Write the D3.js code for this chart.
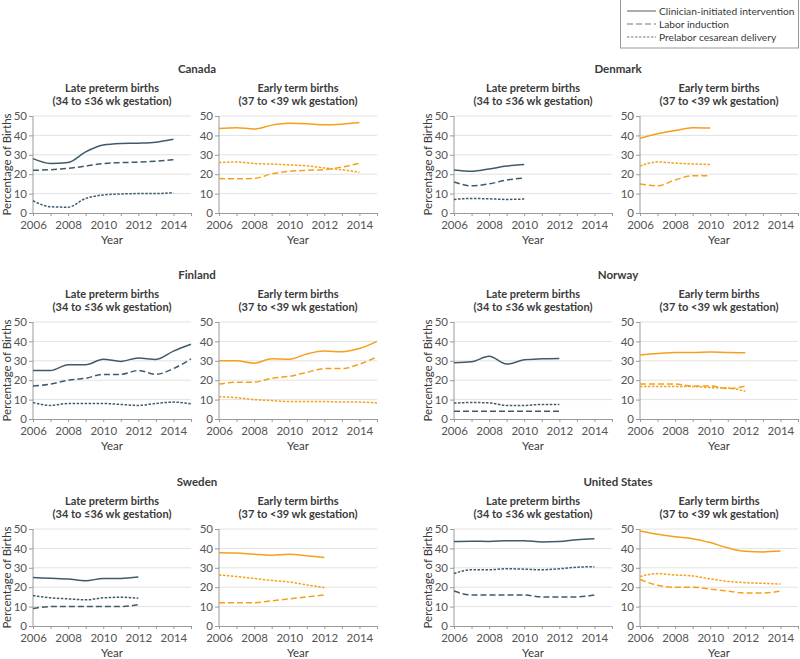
<!DOCTYPE html>
<meta charset="utf-8">
<style>
body { margin: 0; background: #fff; }
svg text { font-family: Lato, "Noto Sans", sans-serif; fill: #3a3a3a; }
.grid line { stroke: #e2e2e2; }
.axis path, .axis line { stroke: #9a9a9a; }
.axis text { font-family: Lato, "Noto Sans", sans-serif; font-size: 11.5px; fill: #555; }
</style>
<body>
<svg width="800" height="659"></svg>
<script src="https://d3js.org/d3.v7.min.js"></script>
<script>

// legend series names
var seriesNames = ["Clinician-initiated intervention", "Labor induction", "Prelabor cesarean delivery"];

var countries = ["Canada", "Denmark", "Finland", "Norway", "Sweden", "United States"];

// years covered by each country
var years_canada = [2006, 2007, 2008, 2009, 2010, 2011, 2012, 2013, 2014];
var years_denmark = [2006, 2007, 2008, 2009, 2010];
var years_finland = [2006, 2007, 2008, 2009, 2010, 2011, 2012, 2013, 2014, 2015];
var years_norway = [2006, 2007, 2008, 2009, 2010, 2011, 2012];
var years_sweden = [2006, 2007, 2008, 2009, 2010, 2011, 2012];
var years_us = [2006, 2007, 2008, 2009, 2010, 2011, 2012, 2013, 2014];

// late preterm: [clinician-initiated, labor induction, prelabor cesarean]
var canada_late = [
  [28, 25.5, 26, 31.5, 35, 35.8, 36, 36.5, 38],
  [22, 22.3, 23, 24.2, 25.5, 26, 26.2, 26.7, 27.5],
  [6.3, 3.2, 3, 7.5, 9.3, 9.8, 10, 10, 10.5]
];
var canada_early = [
  [43.5, 44, 43.3, 45.3, 46.2, 46, 45.5, 45.8, 46.6],
  [17.8, 17.6, 17.8, 20.2, 21.5, 22, 22.3, 23.7, 25.6],
  [26, 26.3, 25.5, 25.2, 24.8, 24.3, 23.2, 22.3, 21]
];
var denmark_late = [
  [22.2, 21.5, 22.7, 24.2, 25],
  [16, 14, 15, 17, 18],
  [7, 7.5, 7.3, 7, 7.2]
];
var denmark_early = [
  [38.5, 40.8, 42.5, 44, 43.8],
  [15, 14, 17, 19.2, 19.2],
  [24.2, 26.3, 25.7, 25.3, 25]
];
var finland_late = [
  [25, 25, 28, 28, 30.8, 29.7, 31.5, 30.7, 35, 38.5],
  [17, 18, 20, 21, 23, 23, 25, 23, 26, 31],
  [8.5, 7, 8, 8, 8, 7.5, 7, 8, 8.7, 7.8]
];
var finland_early = [
  [30, 30, 28.8, 31, 30.8, 33.5, 35, 34.7, 36.3, 40],
  [18, 19, 19, 21, 22, 24, 26, 26, 28.3, 32],
  [11.5, 11, 10, 9.5, 9, 9, 9, 8.7, 8.7, 8.3]
];
var norway_late = [
  [29, 29.5, 32.3, 28.3, 30.5, 31, 31.2],
  [4, 4, 4, 4, 4, 4, 4],
  [8.2, 8.5, 8.3, 7, 7, 7.5, 7.5]
];
var norway_early = [
  [33, 33.8, 34.3, 34.3, 34.6, 34.3, 34.2],
  [18, 18, 18, 17, 17, 15.7, 17],
  [16.7, 16.8, 16.8, 16.7, 16.2, 16, 14.3]
];
var sweden_late = [
  [25, 24.6, 24.2, 23.3, 24.5, 24.5, 25.2],
  [9, 10, 10, 10, 10, 10, 11],
  [15.7, 14.5, 14, 13.5, 14.5, 14.8, 14.3]
];
var sweden_early = [
  [37.8, 37.6, 37, 36.5, 37, 36.2, 35.3],
  [12, 12, 12, 13, 14, 15, 16],
  [26.3, 25.5, 24.5, 23.5, 22.7, 21.2, 19.8]
];
var us_late = [
  [43.5, 43.7, 43.6, 44, 44, 43.3, 43.5, 44.5, 45],
  [18, 16, 16, 16, 16, 15, 15, 15, 16],
  [27, 29, 29, 29.5, 29.3, 29, 29.5, 30.3, 30.6]
];
var us_early = [
  [49, 47.3, 46, 45, 43, 40.3, 38.5, 38.2, 38.6],
  [24, 21, 20, 20, 19, 18, 17, 17, 18],
  [25.5, 27, 26.3, 25.8, 24.3, 23, 22.3, 22, 21.6]
];

var yearsList = [years_canada, years_denmark, years_finland, years_norway, years_sweden, years_us];
var lateList = [canada_late, denmark_late, finland_late, norway_late, sweden_late, us_late];
var earlyList = [canada_early, denmark_early, finland_early, norway_early, sweden_early, us_early];

var yTicks = [0, 10, 20, 30, 40, 50];
var xLabelTicks = [2006, 2008, 2010, 2012, 2014];

var colBlue = "#3f5b6b", colOrange = "#f5a01a";
var dashes = [null, "6,3", "2.5,1.5"];

var svg = d3.select("svg");
var pw = 158, ph = 97;
var colX = [[33, 219], [454, 640]];
var rowY = [116, 322, 529];

var x = d3.scaleLinear().domain([2006, 2015]).range([0, pw]);
var y = d3.scaleLinear().domain([0, 50]).range([ph, 0]);

function draw_panel(g, years, data, colour, title1, title2, showYLabel) {
  g.append("text").attr("x", pw / 2).attr("y", -24).attr("text-anchor", "middle")
    .style("font-size", "11px").style("font-weight", "bold").text(title1);
  g.append("text").attr("x", pw / 2).attr("y", -11).attr("text-anchor", "middle")
    .style("font-size", "11px").style("font-weight", "bold").text(title2);

  g.append("g").attr("class", "grid").selectAll("line")
    .data(yTicks.slice(1)).enter().append("line")
    .attr("x1", 0).attr("x2", pw)
    .attr("y1", function(d) { return y(d); }).attr("y2", function(d) { return y(d); });

  var ya = g.append("g").attr("class", "axis")
    .call(d3.axisLeft(y).tickValues(yTicks).tickSize(4).tickSizeOuter(0));
  ya.select(".domain").remove();
  ya.append("line").attr("x1", 0).attr("x2", 0).attr("y1", 0).attr("y2", ph);
  ya.selectAll("text").attr("x", -6);

  var xa = g.append("g").attr("class", "axis").attr("transform", "translate(0," + ph + ")")
    .call(d3.axisBottom(x).ticks(10).tickSize(3).tickSizeOuter(0)
      .tickFormat(function(d) { return xLabelTicks.indexOf(d) >= 0 ? d : ""; }));
  xa.selectAll("text").attr("y", 8).attr("dy", "0.71em");

  g.append("text").attr("x", pw / 2).attr("y", ph + 31).attr("text-anchor", "middle")
    .style("font-size", "11.5px").text("Year");

  if (showYLabel) {
    g.append("text").attr("transform", "translate(-22," + (ph / 2) + ") rotate(-90)")
      .attr("text-anchor", "middle").style("font-size", "11.5px").text("Percentage of Births");
  }

  var line = d3.line()
    .x(function(d) { return x(d[0]); })
    .y(function(d) { return y(d[1]); })
    .curve(d3.curveMonotoneX);

  data.forEach(function(vals, i) {
    g.append("path")
      .datum(years.map(function(yr, j) { return [yr, vals[j]]; }))
      .attr("fill", "none").attr("stroke", colour).attr("stroke-width", 1.5)
      .attr("stroke-dasharray", dashes[i])
      .attr("d", line);
  });
}

countries.forEach(function(name, k) {
  var r = Math.floor(k / 2), c = k % 2;
  var top = rowY[r];
  svg.append("text")
    .attr("x", colX[c][0] + (colX[c][1] + pw - colX[c][0]) / 2 - 8)
    .attr("y", top - 43).attr("text-anchor", "middle")
    .style("font-size", "11.5px").style("font-weight", "bold").text(name);

  var g1 = svg.append("g").attr("transform", "translate(" + colX[c][0] + "," + top + ")");
  draw_panel(g1, yearsList[k], lateList[k], colBlue, "Late preterm births", "(34 to \u226436 wk gestation)", true);
  var g2 = svg.append("g").attr("transform", "translate(" + colX[c][1] + "," + top + ")");
  draw_panel(g2, yearsList[k], earlyList[k], colOrange, "Early term births", "(37 to <39 wk gestation)", false);
});

// legend
var lg = svg.append("g").attr("transform", "translate(620,0)");
lg.append("rect").attr("x", 0.5).attr("y", -1).attr("width", 178).attr("height", 49)
  .attr("fill", "#fff").attr("stroke", "#999");
seriesNames.forEach(function(s, i) {
  var ly = 11 + i * 13;
  lg.append("line").attr("x1", 7).attr("x2", 36).attr("y1", ly).attr("y2", ly)
    .attr("stroke", "#777").attr("stroke-width", 1.2).attr("stroke-dasharray", dashes[i]);
  lg.append("text").attr("x", 39).attr("y", ly + 4).style("font-size", "10.2px").text(s);
});

</script>
</body>
